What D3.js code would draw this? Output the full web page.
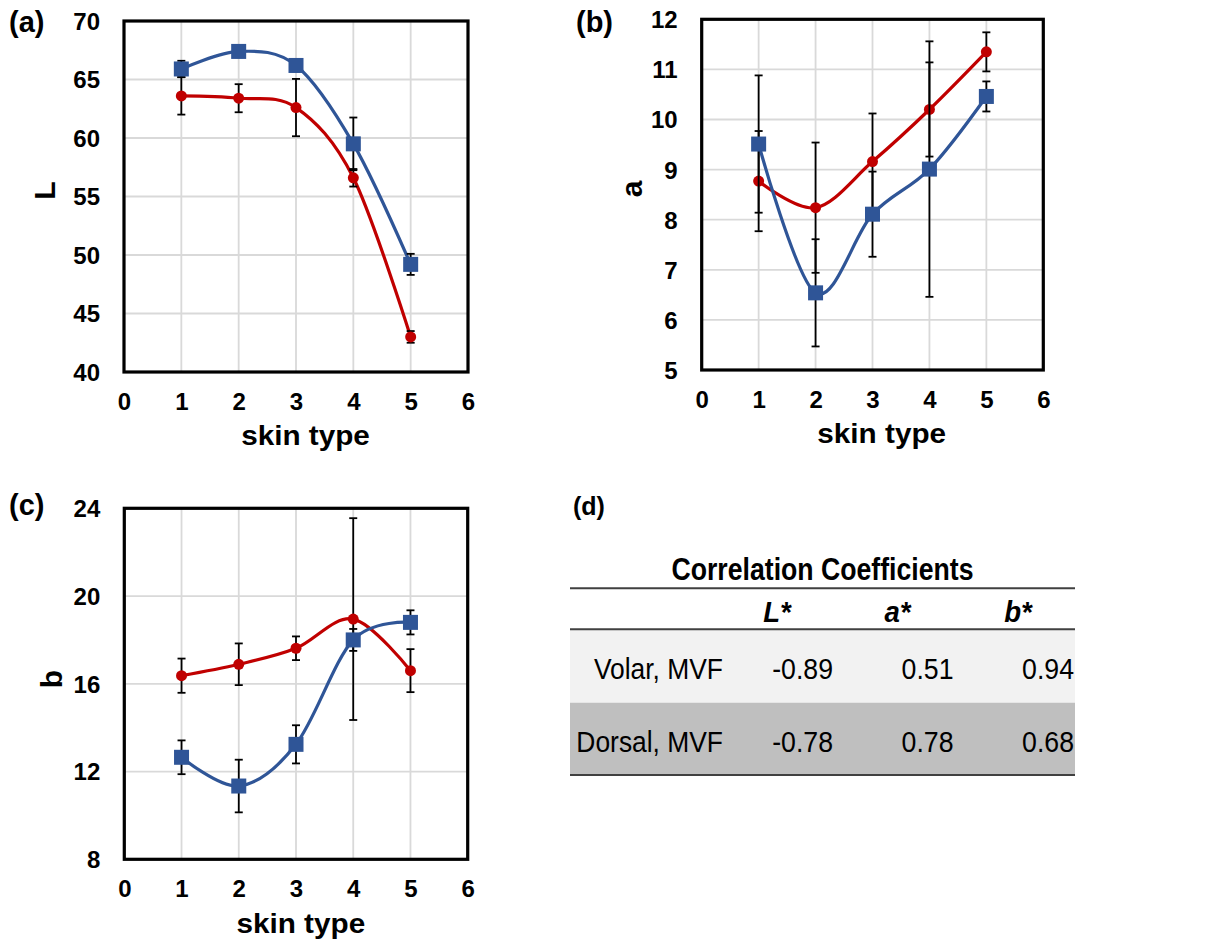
<!DOCTYPE html>
<html lang="en">
<head>
<meta charset="UTF-8">
<title>Skin colour vs skin type</title>
<script src="https://cdn.jsdelivr.net/npm/d3@7"></script>
<style>
    body { margin: 0; background: #fff; }
    svg text { font-family: "Liberation Sans", Arial, sans-serif; fill: #000; }
</style>
</head>
<body>
<svg id="fig" width="1209" height="940"></svg>
<script>

    // skin types on the x axis
    var skinTypes = [1, 2, 3, 4, 5];
    var xTicks = [0, 1, 2, 3, 4, 5, 6];

    // (a) L
    var lTicks = [40, 45, 50, 55, 60, 65, 70];
    var lBlue = [65.9, 67.4, 66.2, 59.5, 49.2];
    var lBlueErr = [0.7, 0.5, 0.5, 2.25, 0.9];
    var lRed = [63.6, 63.4, 62.6, 56.6, 43.0];
    var lRedErr = [1.6, 1.2, 2.45, 0.75, 0.5];

    // (b) a
    var aTicks = [5, 6, 7, 8, 9, 10, 11, 12];
    var aBlue = [9.51, 6.54, 8.11, 9.01, 10.46];
    var aBlueErr = [1.37, 1.07, 0.85, 2.55, 0.3];
    var aRed = [8.77, 8.24, 9.16, 10.2, 11.35];
    var aRedErr = [1.0, 1.3, 0.96, 0.94, 0.39];

    // (c) b
    var bTicks = [8, 12, 16, 20, 24];
    var bBlue = [12.65, 11.34, 13.24, 18.0, 18.8];
    var bBlueErr = [0.77, 1.2, 0.87, 0.5, 0.55];
    var bRed = [16.37, 16.89, 17.62, 18.95, 16.6];
    var bRedErr = [0.78, 0.95, 0.54, 4.6, 0.98];

    // (d) table
    var tableTitle = "Correlation Coefficients";
    var tableCols = ["L*", "a*", "b*"];
    var rowLabels = ["Volar, MVF", "Dorsal, MVF"];
    var volarCoef = [-0.89, 0.51, 0.94];
    var dorsalCoef = [-0.78, 0.78, 0.68];

    var blue = "#2f5597";
    var red = "#c00000";

    var svg = d3.select("#fig");

    var panels = [
        {tag: "(a)", tagPos: [9, 32], yLabel: "L", yLabPos: [55, 190.5], xLabPos: [305.5, 445],
            box: [124, 21, 468, 372], ticks: lTicks,
            blue: lBlue, blueErr: lBlueErr, red: lRed, redErr: lRedErr},
        {tag: "(b)", tagPos: [576, 32], yLabel: "a", yLabPos: [642, 189], xLabPos: [881.7, 443.3],
            box: [701.7, 19.3, 1043.3, 370], ticks: aTicks,
            blue: aBlue, blueErr: aBlueErr, red: aRed, redErr: aRedErr},
        {tag: "(c)", tagPos: [9, 515], yLabel: "b", yLabPos: [62, 679], xLabPos: [300.8, 933.3],
            box: [124.3, 508.3, 467.7, 859.3], ticks: bTicks,
            blue: bBlue, blueErr: bBlueErr, red: bRed, redErr: bRedErr}
    ];

    panels.forEach(drawPanel);
    drawTable();

    function drawPanel(p) {
        var x = d3.scaleLinear().domain([0, 6]).range([p.box[0], p.box[2]]);
        var y = d3.scaleLinear().domain([p.ticks[0], p.ticks[p.ticks.length - 1]]).range([p.box[3], p.box[1]]);
        var g = svg.append("g");

        // gridlines
        g.selectAll(".vgrid")
            .data(skinTypes)
            .enter().append("line")
            .attr("x1", function (d) { return x(d); })
            .attr("x2", function (d) { return x(d); })
            .attr("y1", p.box[1])
            .attr("y2", p.box[3])
            .attr("stroke", "#d9d9d9")
            .attr("stroke-width", 1.8);

        g.selectAll(".hgrid")
            .data(p.ticks.slice(1, -1))
            .enter().append("line")
            .attr("x1", p.box[0])
            .attr("x2", p.box[2])
            .attr("y1", function (d) { return y(d); })
            .attr("y2", function (d) { return y(d); })
            .attr("stroke", "#d9d9d9")
            .attr("stroke-width", 1.8);

        // axes (labels only)
        var yAxis = g.append("g")
            .attr("transform", "translate(" + p.box[0] + ",0)")
            .call(d3.axisLeft(y).tickValues(p.ticks).tickSize(0).tickPadding(24).tickFormat(d3.format("d")));
        yAxis.select(".domain").remove();
        yAxis.selectAll("text")
            .attr("font-size", 24)
            .attr("font-weight", "bold")
            .attr("dy", "0.35em");

        var xAxis = g.append("g")
            .attr("transform", "translate(0," + p.box[3] + ")")
            .call(d3.axisBottom(x).tickValues(xTicks).tickSize(0).tickPadding(21).tickFormat(d3.format("d")));
        xAxis.select(".domain").remove();
        xAxis.selectAll("text")
            .attr("font-size", 24)
            .attr("font-weight", "bold");

        // frame
        g.append("rect")
            .attr("x", p.box[0])
            .attr("y", p.box[1])
            .attr("width", p.box[2] - p.box[0])
            .attr("height", p.box[3] - p.box[1])
            .attr("fill", "none")
            .attr("stroke", "#000")
            .attr("stroke-width", 3.2);

        // series
        drawSeries(g, x, y, p.red, p.redErr, red, "circle");
        drawSeries(g, x, y, p.blue, p.blueErr, blue, "square");

        // labels
        g.append("text")
            .attr("x", p.tagPos[0])
            .attr("y", p.tagPos[1])
            .attr("font-size", 29)
            .attr("font-weight", "bold")
            .text(p.tag);

        g.append("text")
            .attr("transform", "translate(" + p.yLabPos[0] + "," + p.yLabPos[1] + ") rotate(-90)")
            .attr("text-anchor", "middle")
            .attr("font-size", 30)
            .attr("font-weight", "bold")
            .text(p.yLabel);

        g.append("text")
            .attr("transform", "translate(" + p.xLabPos[0] + "," + p.xLabPos[1] + ") scale(1.1,1)")
            .attr("text-anchor", "middle")
            .attr("font-size", 27)
            .attr("font-weight", "bold")
            .text("skin type");
    }

    function drawSeries(g, x, y, vals, errs, colour, shape) {
        var line = d3.line()
            .curve(d3.curveCardinal.tension(0))
            .x(function (d, i) { return x(skinTypes[i]); })
            .y(function (d) { return y(d); });

        g.append("path")
            .datum(vals)
            .attr("d", line)
            .attr("fill", "none")
            .attr("stroke", colour)
            .attr("stroke-width", 3.2);

        // error bars
        var eb = g.append("g").attr("stroke", "#000").attr("stroke-width", 1.8);
        vals.forEach(function (v, i) {
            var cx = x(skinTypes[i]);
            var top = y(v + errs[i]), bot = y(v - errs[i]);
            eb.append("line").attr("x1", cx).attr("x2", cx).attr("y1", top).attr("y2", bot);
            eb.append("line").attr("x1", cx - 4).attr("x2", cx + 4).attr("y1", top).attr("y2", top);
            eb.append("line").attr("x1", cx - 4).attr("x2", cx + 4).attr("y1", bot).attr("y2", bot);
        });

        if (shape === "square") {
            g.selectAll(null)
                .data(vals)
                .enter().append("rect")
                .attr("x", function (d, i) { return x(skinTypes[i]) - 7.5; })
                .attr("y", function (d) { return y(d) - 7.5; })
                .attr("width", 15)
                .attr("height", 15)
                .attr("fill", colour);
        } else {
            g.selectAll(null)
                .data(vals)
                .enter().append("circle")
                .attr("cx", function (d, i) { return x(skinTypes[i]); })
                .attr("cy", function (d) { return y(d); })
                .attr("r", 5.5)
                .attr("fill", colour);
        }
    }

    function drawTable() {
        var g = svg.append("g");
        var left = 570, right = 1075;
        var colRight = d3.scaleLinear().domain([0, 2]).range([833, 1074]);
        var rows = [volarCoef, dorsalCoef];
        var rowTop = [629.3, 702.7], rowBottom = [702.7, 775];
        var rowFill = ["#f2f2f2", "#bfbfbf"];
        var rowBase = [679.3, 751.7];

        g.append("text")
            .attr("x", 573)
            .attr("y", 515)
            .attr("font-size", 25)
            .attr("font-weight", "bold")
            .text("(d)");

        rows.forEach(function (r, i) {
            g.append("rect")
                .attr("x", left)
                .attr("y", rowTop[i])
                .attr("width", right - left)
                .attr("height", rowBottom[i] - rowTop[i])
                .attr("fill", rowFill[i]);
        });

        [588.3, 629.3, 775].forEach(function (ly) {
            g.append("line")
                .attr("x1", left).attr("x2", right)
                .attr("y1", ly).attr("y2", ly)
                .attr("stroke", "#404040")
                .attr("stroke-width", 2);
        });

        g.append("text")
            .attr("transform", "translate(822.5,580) scale(0.86,1)")
            .attr("text-anchor", "middle")
            .attr("font-size", 31)
            .attr("font-weight", "bold")
            .text(tableTitle);

        tableCols.forEach(function (c, j) {
            g.append("text")
                .attr("transform", "translate(" + (colRight(j) - 56) + ",621.7) scale(0.92,1)")
                .attr("text-anchor", "middle")
                .attr("font-size", 30)
                .attr("font-weight", "bold")
                .attr("font-style", "italic")
                .text(c);
        });

        rows.forEach(function (r, i) {
            g.append("text")
                .attr("transform", "translate(723," + rowBase[i] + ") scale(0.88,1)")
                .attr("text-anchor", "end")
                .attr("font-size", 30)
                .text(rowLabels[i]);
            r.forEach(function (v, j) {
                g.append("text")
                    .attr("transform", "translate(" + colRight(j) + "," + rowBase[i] + ") scale(0.89,1)")
                    .attr("text-anchor", "end")
                    .attr("font-size", 30)
                    .text(v.toFixed(2));
            });
        });
    }

</script>
</body>
</html>
